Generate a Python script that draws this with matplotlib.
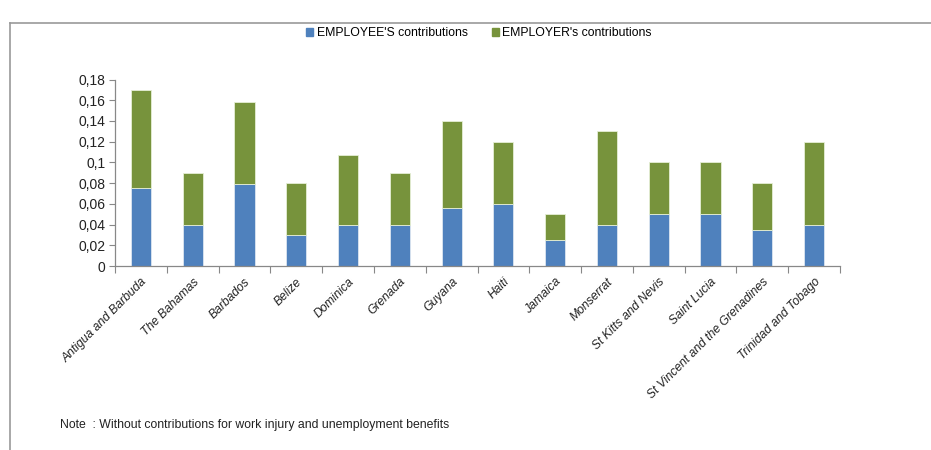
import matplotlib
matplotlib.use("Agg")
import matplotlib.pyplot as plt
import numpy as np
from matplotlib.patches import Rectangle
from matplotlib.lines import Line2D

countries = ["Antigua and Barbuda", "The Bahamas", "Barbados", "Belize", "Dominica",
             "Grenada", "Guyana", "Haiti", "Jamaica", "Monserrat", "St Kitts and Nevis",
             "Saint Lucia", "St Vincent and the Grenadines", "Trinidad and Tobago"]
employee = [0.075, 0.04, 0.079, 0.03, 0.04, 0.04, 0.056, 0.06, 0.025, 0.04, 0.05, 0.05, 0.035, 0.04]
total = [0.17, 0.09, 0.158, 0.08, 0.107, 0.09, 0.14, 0.12, 0.05, 0.13, 0.10, 0.10, 0.08, 0.12]
employer = [t - e for t, e in zip(total, employee)]
yticks = [0, 0.02, 0.04, 0.06, 0.08, 0.10, 0.12, 0.14, 0.16, 0.18]
ytick_labels = ["0", "0,02", "0,04", "0,06", "0,08", "0,1", "0,12", "0,14", "0,16", "0,18"]

plt.rcParams['font.family'] = ['Liberation Sans', 'DejaVu Sans']

fig = plt.figure(figsize=(9.31, 4.5), dpi=100)
W, H = 931, 450
ax = fig.add_axes([115 / W, 1 - 266 / H, (840 - 115) / W, (266 - 79.5) / H])

x = np.arange(len(countries))
blue = "#4F81BD"
green = "#77933C"
ax.bar(x, employee, width=0.39, color=blue, edgecolor="#dce6f1", linewidth=0.6, label="EMPLOYEE'S contributions")
ax.bar(x, employer, bottom=employee, width=0.39, color=green, edgecolor="#e6efd6", linewidth=0.6, label="EMPLOYER's contributions")

ax.set_xlim(-0.5, len(countries) - 0.5)
ax.set_ylim(0, 0.18)
ax.set_yticks(yticks)
ax.set_yticklabels(ytick_labels, fontsize=10, color="#222222")
ax.set_xticks(x)
ax.set_xticklabels(countries, rotation=45, ha="right", rotation_mode="anchor",
                   fontsize=8.7, style="italic", color="#222222")
ax.set_xticks(np.arange(-0.5, len(countries)), minor=True)
ax.tick_params(axis="x", which="major", length=0, pad=7)
ax.tick_params(axis="x", which="minor", length=5, color="#888888", width=0.8, direction="out")
ax.tick_params(axis="y", length=4, color="#888888", width=0.8, direction="out", pad=3)
for s in ["top", "right"]:
    ax.spines[s].set_visible(False)
for s in ["left", "bottom"]:
    ax.spines[s].set_color("#888888")
    ax.spines[s].set_linewidth(0.9)

leg = fig.legend(handles=[Rectangle((0, 0), 1, 1, color=blue), Rectangle((0, 0), 1, 1, color=green)],
                 labels=["EMPLOYEE'S contributions", "EMPLOYER's contributions"],
                 loc="center", bbox_to_anchor=(479 / W, 1 - 33.5 / H), ncol=2, frameon=False,
                 fontsize=8.8, handlelength=0.55, handleheight=0.55, handletextpad=0.3,
                 columnspacing=2.0)

fig.text(60 / W, 1 - 425 / H, "Note  : Without contributions for work injury and unemployment benefits",
         fontsize=8.8, va="center", ha="left", color="#222222")

# outer frame (left and top visible)
fig.add_artist(Line2D([9.5 / W, 9.5 / W], [0, 1 - 22.5 / H], transform=fig.transFigure,
                      color="#999999", linewidth=1.2))
fig.add_artist(Line2D([9.5 / W, 1], [1 - 22.5 / H, 1 - 22.5 / H], transform=fig.transFigure,
                      color="#999999", linewidth=1.2))

fig.savefig("out.png", dpi=100)
